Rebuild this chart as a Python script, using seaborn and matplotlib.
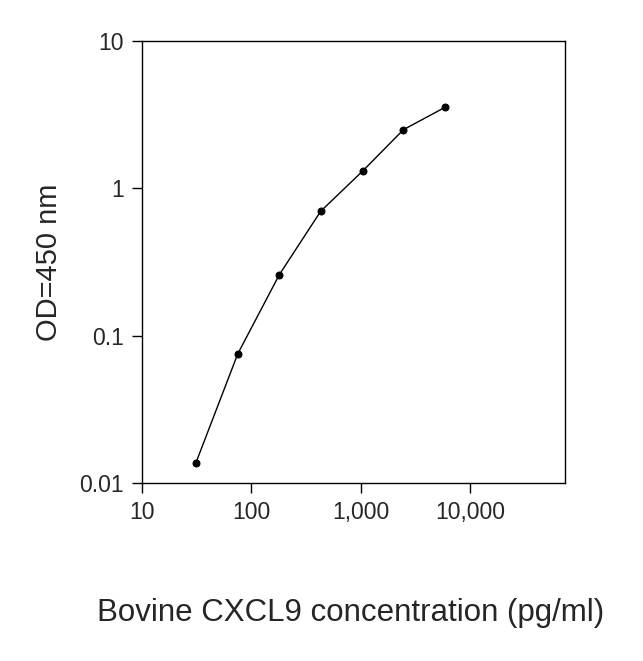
import matplotlib
matplotlib.use("Agg")
import matplotlib.pyplot as plt
import seaborn as sns
import pandas as pd
from matplotlib.ticker import FixedLocator, FixedFormatter, NullLocator

conc = [31, 75, 180, 430, 1050, 2450, 5900]
od = [0.0137, 0.0755, 0.26, 0.70, 1.32, 2.5, 3.55]
xticks = [10, 100, 1000, 10000]
xlabels = ["10", "100", "1,000", "10,000"]
yticks = [0.01, 0.1, 1, 10]
ylabels = ["0.01", "0.1", "1", "10"]

sns.set_style("white")
plt.rcParams['font.family'] = ['Liberation Sans', 'DejaVu Sans']
fig = plt.figure(figsize=(6.43, 6.61), dpi=100)
ax = fig.add_axes([0.221, 0.269, 0.658, 0.669])
df = pd.DataFrame({"x": conc, "y": od})
sns.lineplot(data=df, x="x", y="y", ax=ax, color="black", lw=1, marker="o",
             markersize=5, markeredgecolor="black")
ax.set_xscale("log"); ax.set_yscale("log")
ax.set_xlim(10, 74000); ax.set_ylim(0.01, 10)
ax.xaxis.set_major_locator(FixedLocator(xticks)); ax.xaxis.set_major_formatter(FixedFormatter(xlabels))
ax.yaxis.set_major_locator(FixedLocator(yticks)); ax.yaxis.set_major_formatter(FixedFormatter(ylabels))
ax.xaxis.set_minor_locator(NullLocator()); ax.yaxis.set_minor_locator(NullLocator())
ax.tick_params(direction="out", length=7, width=1, labelsize=16.5, color="black",
               bottom=True, left=True, pad=6)
for s in ax.spines.values():
    s.set_color("black"); s.set_linewidth(1)
ax.set_xlabel(""); ax.set_ylabel("OD=450 nm", fontsize=21, labelpad=12)
fig.text(0.545, 0.06, "Bovine CXCL9 concentration (pg/ml)", ha="center", fontsize=22.5)
fig.savefig("out.png", dpi=100)
